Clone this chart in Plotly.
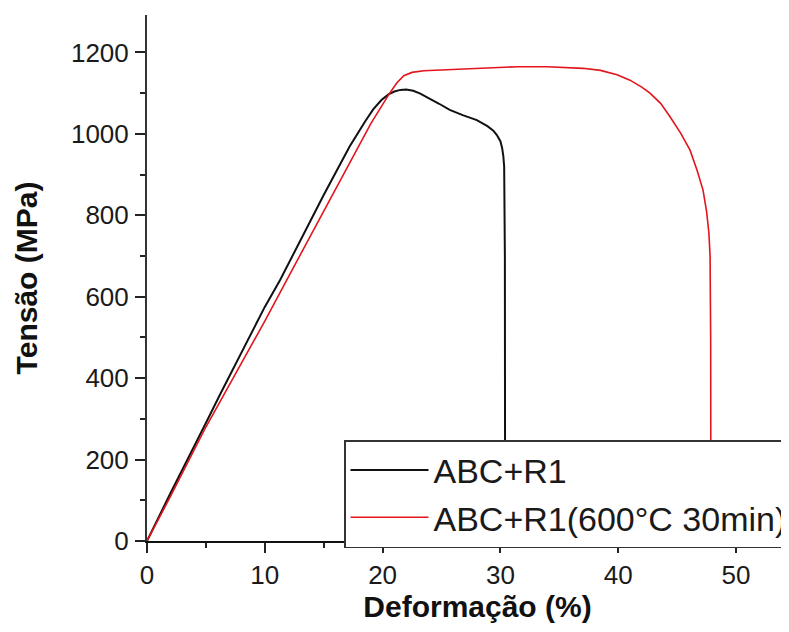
import plotly.graph_objects as go

# Data
strain_abc = [0, 2, 5, 6.2, 10, 11.3, 15, 17.2, 18.5, 19.2, 19.9, 20.5, 21.0, 21.5, 22.0,
              22.6, 23.2, 24.0, 24.8, 25.7, 26.8, 28.0, 28.9, 29.4, 29.7, 30.0, 30.15,
              30.25, 30.32, 30.38, 30.4]
stress_abc = [0, 118, 290, 360, 575, 641, 850, 969, 1030, 1060, 1083, 1097, 1104, 1108, 1109,
              1106, 1099, 1087, 1074, 1059, 1046, 1034, 1019, 1008, 997, 982, 965,
              945, 920, 700, 0]

strain_ht = [0, 2, 5, 10, 11.86, 15, 17.2, 19.0, 20.6, 21.2, 21.8, 22.5, 23.5, 25.7, 28.0,
             31.4, 34.0, 37.0, 38.5, 39.9, 41.0, 42.0, 42.7, 43.6, 44.4, 45.3, 46.1, 46.7,
             47.2, 47.5, 47.7, 47.8, 47.85, 47.87]
stress_ht = [0, 110, 280, 540, 641, 810, 928, 1025, 1100, 1125, 1143, 1151, 1155, 1158, 1162,
             1165, 1165, 1161, 1156, 1145, 1132, 1115, 1100, 1075, 1042, 1002, 960, 910,
             862, 810, 756, 700, 500, 0]

name_abc = "ABC+R1"
name_ht = "ABC+R1(600°C 30min)"
x_title = "Deformação (%)"
y_title = "Tensão (MPa)"
x_ticks = [0, 10, 20, 30, 40, 50]
y_ticks = [0, 200, 400, 600, 800, 1000, 1200]

FONT = "Liberation Sans, Arial, sans-serif"

fig = go.Figure()
fig.add_trace(go.Scatter(x=strain_abc, y=stress_abc, mode="lines", name=name_abc,
                         line=dict(color="#111111", width=2)))
fig.add_trace(go.Scatter(x=strain_ht, y=stress_ht, mode="lines", name=name_ht,
                         line=dict(color="#e3141c", width=1.6)))

# page has an 8px body margin; compensate in the figure margins
W, H = 800, 632
L, R, T, B = 139, 0, 7, 99
px_per_x = 11.78
x_max = (W - L - R) / px_per_x

fig.update_layout(
    width=W, height=H,
    margin=dict(l=L, r=R, t=T, b=B, autoexpand=False),
    paper_bgcolor="white", plot_bgcolor="white",
    font=dict(family=FONT, color="#1a1a1a", size=26),
    showlegend=True,
    legend=dict(
        x=(336 - L) / (W - L - R), y=(533 - 432) / (H - T - B),
        xanchor="left", yanchor="top",
        bgcolor="white", bordercolor="#333333", borderwidth=1.5,
        font=dict(family=FONT, size=34, color="#1a1a1a"),
        itemwidth=78, tracegroupgap=0,
    ),
    xaxis=dict(
        range=[0, x_max], tickmode="array", tickvals=x_ticks,
        ticks="outside", ticklen=10, tickwidth=1.5, tickcolor="#222",
        showline=True, linecolor="#111", linewidth=2, mirror=False,
        showgrid=False, zeroline=False,
        minor=dict(ticks="outside", ticklen=5, tickwidth=1.5, tickcolor="#222", dtick=5, tick0=0),
        tickfont=dict(family=FONT, size=26),
        title=dict(text=x_title, font=dict(family=FONT, size=30, weight="bold", color="#111"),
                   standoff=1),
    ),
    yaxis=dict(
        range=[0, 1292], tickmode="array", tickvals=y_ticks,
        ticks="outside", ticklen=10, tickwidth=1.5, tickcolor="#222",
        showline=True, linecolor="#333", linewidth=2, mirror=False,
        showgrid=False, zeroline=False,
        minor=dict(ticks="outside", ticklen=5, tickwidth=1.5, tickcolor="#222", dtick=100, tick0=0),
        tickfont=dict(family=FONT, size=26),
        ticklabelstandoff=1,
        title=dict(text=y_title, font=dict(family=FONT, size=30, weight="bold", color="#111"),
                   standoff=24),
    ),
)

fig.write_html("out.html")
